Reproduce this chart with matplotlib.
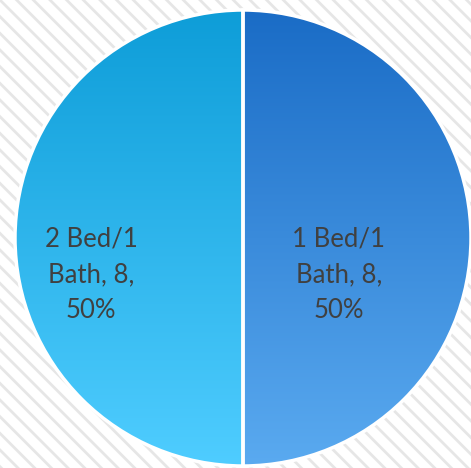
import matplotlib
matplotlib.use("Agg")
import matplotlib.pyplot as plt
import numpy as np
from matplotlib.colors import LinearSegmentedColormap
from matplotlib.patches import Rectangle

# unit mix
labels = ["1 Bed/1\nBath", "2 Bed/1\nBath"]
counts = [8, 8]
top_colors = ["#1a6cc6", "#0e9dd8"]
bottom_colors = ["#5aaaf0", "#4fcdff"]
label_x = [339, 91]

plt.rcParams["hatch.linewidth"] = 2.0
plt.rcParams["hatch.color"] = "#e6e6e6"

W, H = 471, 468
fig = plt.figure(figsize=(W / 100, H / 100), dpi=100)
ax = fig.add_axes([0, 0, 1, 1])

# hatched backdrop
bg = Rectangle((0, 0), W, H, facecolor="white", edgecolor="#e6e6e6",
               hatch="\\\\", linewidth=0, zorder=0)
ax.add_patch(bg)

cx, cy, r = 243, 230, 228
wedges, _ = ax.pie(counts, center=(cx, cy), radius=r, startangle=90,
                   counterclock=False, frame=True,
                   wedgeprops=dict(edgecolor="white", linewidth=2.5))

total = sum(counts)
for w, lab, n, c0, c1, tx in zip(wedges, labels, counts, top_colors,
                                 bottom_colors, label_x):
    w.set_facecolor("none")
    w.set_zorder(3)
    cmap = LinearSegmentedColormap.from_list("g", [c1, c0])
    grad = np.linspace(0, 1, 256).reshape(-1, 1)
    im = ax.imshow(grad, cmap=cmap, origin="lower", aspect="auto",
                   extent=(cx - r, cx + r, cy - r, cy + r), zorder=2)
    im.set_clip_path(w)
    ax.text(tx, cy - 37, f"{lab}, {n},\n{n / total:.0%}", ha="center",
            va="center", fontsize=18.5, color="#404040", family="Lato",
            linespacing=1.55, zorder=4)

ax.set_xlim(0, W)
ax.set_ylim(0, H)
ax.set_aspect("auto")
ax.axis("off")

fig.savefig("out.png", dpi=100)
